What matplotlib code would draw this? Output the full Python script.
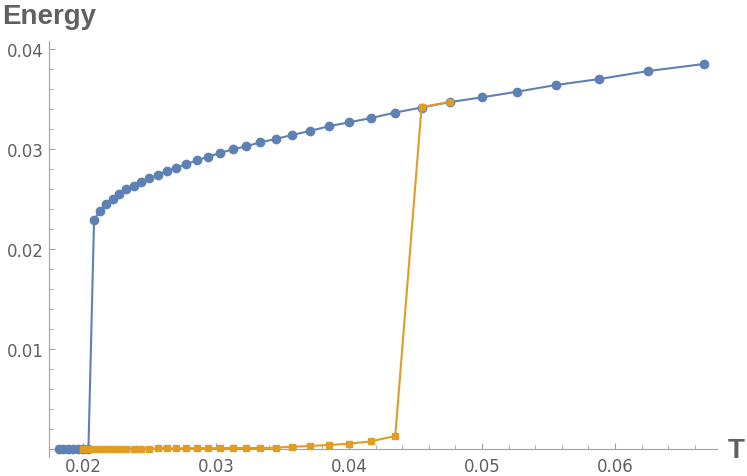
import matplotlib.pyplot as plt
import numpy as np

# inverse temperatures of the simulation runs
beta_blue = list(range(55, 14, -1))
beta_orange = list(range(50, 20, -1))

energy_blue = [0, 0, 0, 0, 0, 0, 0,
               0.02293, 0.02383, 0.02447, 0.02503, 0.02550, 0.02597, 0.02633,
               0.02673, 0.02707, 0.02743, 0.02780, 0.02813, 0.02850, 0.02887,
               0.02923, 0.02960, 0.02997, 0.03027, 0.03067, 0.03100, 0.03140,
               0.03180, 0.03227, 0.03267, 0.03310, 0.03365, 0.03415, 0.03470,
               0.03517, 0.03573, 0.03640, 0.03700, 0.03780, 0.03850]

energy_orange = [0.00003, 0.00003, 0.00003, 0.00004, 0.00004, 0.00004, 0.00004,
                 0.00005, 0.00005, 0.00005, 0.00005, 0.00006, 0.00006, 0.00007,
                 0.00007, 0.00008, 0.00009, 0.00009, 0.00010, 0.00010, 0.00010,
                 0.00013, 0.00023, 0.00030, 0.00040, 0.00053, 0.00077, 0.00130,
                 0.03417, 0.03473]

T_blue = 1.0 / np.array(beta_blue)
T_orange = 1.0 / np.array(beta_orange)

blue = '#5E81B5'
orange = '#E19C24'
axcol = '#a0a0a0'
txtcol = '#606060'

fig = plt.figure(figsize=(7.47, 4.77), dpi=100)
ax = fig.add_axes([0.0656, 0.0398, 0.8942, 0.8721])

ax.plot(T_blue, energy_blue, '-o', color=blue, lw=1.5, markersize=6, zorder=3)
ax.plot(T_orange, energy_orange, '-s', color=orange, lw=1.5, markersize=4.5, zorder=4)

ax.set_xlim(0.017444, 0.067669)
ax.set_ylim(-0.0008, 0.0408)

for s in ['top', 'right']:
    ax.spines[s].set_visible(False)
ax.spines['bottom'].set_position(('data', 0))
ax.spines['bottom'].set_color(axcol)
ax.spines['left'].set_color(axcol)

ax.set_xticks([0.02, 0.03, 0.04, 0.05, 0.06])
ax.set_xticklabels(['0.02', '0.03', '0.04', '0.05', '0.06'])
ax.set_xticks(np.arange(0.018, 0.0676, 0.002), minor=True)
ax.set_yticks([0.01, 0.02, 0.03, 0.04])
ax.set_yticklabels(['0.01', '0.02', '0.03', '0.04'])
ax.set_yticks(np.arange(0.002, 0.0405, 0.002), minor=True)

ax.tick_params(which='both', direction='in', color=axcol, labelcolor=txtcol, labelsize=12)
ax.tick_params(which='major', length=4.5, width=0.8)
ax.tick_params(which='minor', length=2.8, width=0.6)
ax.tick_params(axis='x', pad=6)
ax.tick_params(axis='y', pad=4)

fig.text(0.985, 0.0545, 'T', fontsize=20, fontweight='bold', color=txtcol,
         family='Liberation Sans', ha='center', va='center')
fig.text(0.003, 0.964, 'Energy', fontsize=20, fontweight='bold', color=txtcol,
         family='Liberation Sans', ha='left', va='center')

fig.savefig('out.png', dpi=100)
